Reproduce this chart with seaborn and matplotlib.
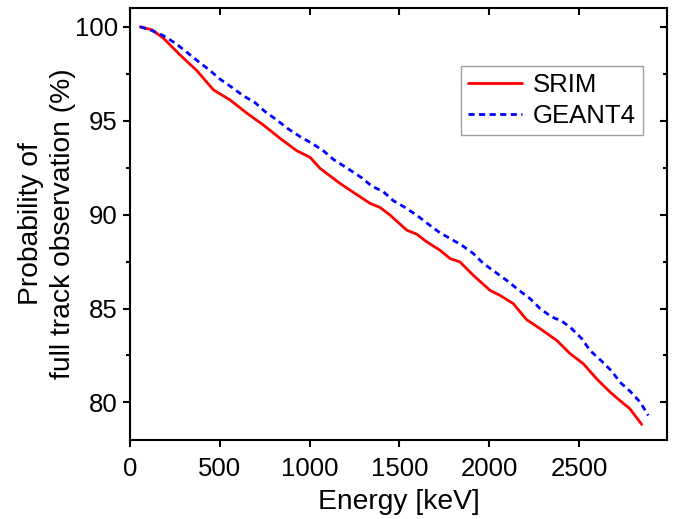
import numpy as np
import pandas as pd
import matplotlib
matplotlib.use("Agg")
import matplotlib.pyplot as plt
import seaborn as sns
from matplotlib.ticker import MultipleLocator

srim_energy = [56, 121, 184, 278, 371, 464, 557, 650, 742, 835, 928, 1002, 1058, 1169, 1225,
               1336, 1392, 1448, 1541, 1596, 1652, 1726, 1782, 1837, 1911, 2004, 2060, 2134,
               2208, 2283, 2376, 2450, 2524, 2598, 2673, 2728, 2784, 2849]
srim_prob = [100.0, 99.84, 99.4, 98.5, 97.67, 96.64, 96.1, 95.4, 94.77, 94.06, 93.4, 93.05, 92.46,
             91.66, 91.3, 90.6, 90.38, 89.97, 89.17, 88.96, 88.55, 88.1, 87.66, 87.48, 86.77,
             85.97, 85.7, 85.26, 84.41, 83.93, 83.3, 82.6, 82.06, 81.26, 80.55, 80.1, 79.66, 78.83]

geant_energy = [56, 121, 186, 251, 315, 380, 445, 501, 566, 631, 696, 752, 816, 881, 947, 1011,
                1076, 1132, 1225, 1290, 1345, 1410, 1466, 1531, 1596, 1661, 1726, 1782, 1847,
                1911, 1967, 2032, 2097, 2162, 2227, 2283, 2348, 2403, 2459, 2515, 2561, 2626,
                2682, 2728, 2784, 2840, 2886]
geant_prob = [100.0, 99.8, 99.52, 99.13, 98.65, 98.15, 97.67, 97.21, 96.78, 96.32, 95.96, 95.48,
              95.04, 94.56, 94.15, 93.8, 93.4, 92.94, 92.37, 91.96, 91.52, 91.22, 90.74, 90.38,
              89.97, 89.49, 89.03, 88.73, 88.37, 87.93, 87.4, 86.95, 86.5, 86.0, 85.53, 85.0,
              84.55, 84.34, 83.93, 83.4, 82.77, 82.2, 81.67, 81.08, 80.6, 80.02, 79.31]

series_names = ["SRIM", "GEANT4"]
x_ticks = [0, 500, 1000, 1500, 2000, 2500]
y_ticks = [80, 85, 90, 95, 100]

df = pd.concat([
    pd.DataFrame({"Energy": srim_energy, "Prob": srim_prob, "Model": series_names[0]}),
    pd.DataFrame({"Energy": geant_energy, "Prob": geant_prob, "Model": series_names[1]}),
], ignore_index=True)

sns.set_style("ticks")
plt.rcParams["font.family"] = ["Liberation Sans", "DejaVu Sans"]
plt.rcParams["text.color"] = "black"
plt.rcParams["axes.labelcolor"] = "black"
plt.rcParams["xtick.color"] = "black"
plt.rcParams["ytick.color"] = "black"

fig = plt.figure(figsize=(6.85, 5.19), dpi=100)
ax = fig.add_axes([0.19, 0.1522, 0.7837, 0.8324])

sns.lineplot(data=df, x="Energy", y="Prob", hue="Model", style="Model",
             palette={"SRIM": "#FF0000", "GEANT4": "#0000FF"},
             dashes={"SRIM": "", "GEANT4": (2.2, 1.6)},
             linewidth=2.0, sort=False, ax=ax)

ax.set_xlim(0, 2990)
ax.set_ylim(78, 101)
ax.set_xticks(x_ticks)
ax.set_yticks(y_ticks)
ax.yaxis.set_minor_locator(MultipleLocator(2.5))

for s in ax.spines.values():
    s.set_visible(True)
    s.set_linewidth(1.5)
    s.set_color("black")

ax.tick_params(axis="both", which="major", direction="out", length=5, width=1.5,
               labelsize=18.5, colors="black", labelcolor="black")
ax.tick_params(axis="x", which="major", pad=7)
ax.tick_params(axis="y", which="major", pad=4)
ax.tick_params(axis="y", which="minor", direction="out", length=3, width=1.5)
ax.tick_params(top=False, right=False, which="both")

secx = ax.secondary_xaxis("top")
secx.set_xticks(x_ticks)
secx.tick_params(direction="in", length=5, width=1.5, labeltop=False, colors="black")
secx.spines["top"].set_visible(False)

secy = ax.secondary_yaxis("right")
secy.set_yticks(y_ticks)
secy.yaxis.set_minor_locator(MultipleLocator(2.5))
secy.tick_params(which="major", direction="in", length=5, width=1.5, labelright=False, colors="black")
secy.tick_params(which="minor", direction="in", length=3, width=1.5, labelright=False, colors="black")
secy.spines["right"].set_visible(False)

ax.set_xlabel("Energy [keV]", fontsize=20.3, labelpad=6, color="black")
ax.set_ylabel("Probability of\nfull track observation (%)", fontsize=20.3, labelpad=-1,
              color="black", linespacing=1.3)

handles, labels = ax.get_legend_handles_labels()
leg = ax.legend(handles, labels, loc="upper right", bbox_to_anchor=(0.955, 0.866),
                fontsize=18.5, frameon=True, fancybox=False, edgecolor="#888888",
                handlelength=2.1, handletextpad=0.4, borderpad=0.28, labelspacing=0.25,
                borderaxespad=0)
leg.get_frame().set_linewidth(1.0)
for t in leg.get_texts():
    t.set_color("black")

fig.savefig("out.png", dpi=100)
